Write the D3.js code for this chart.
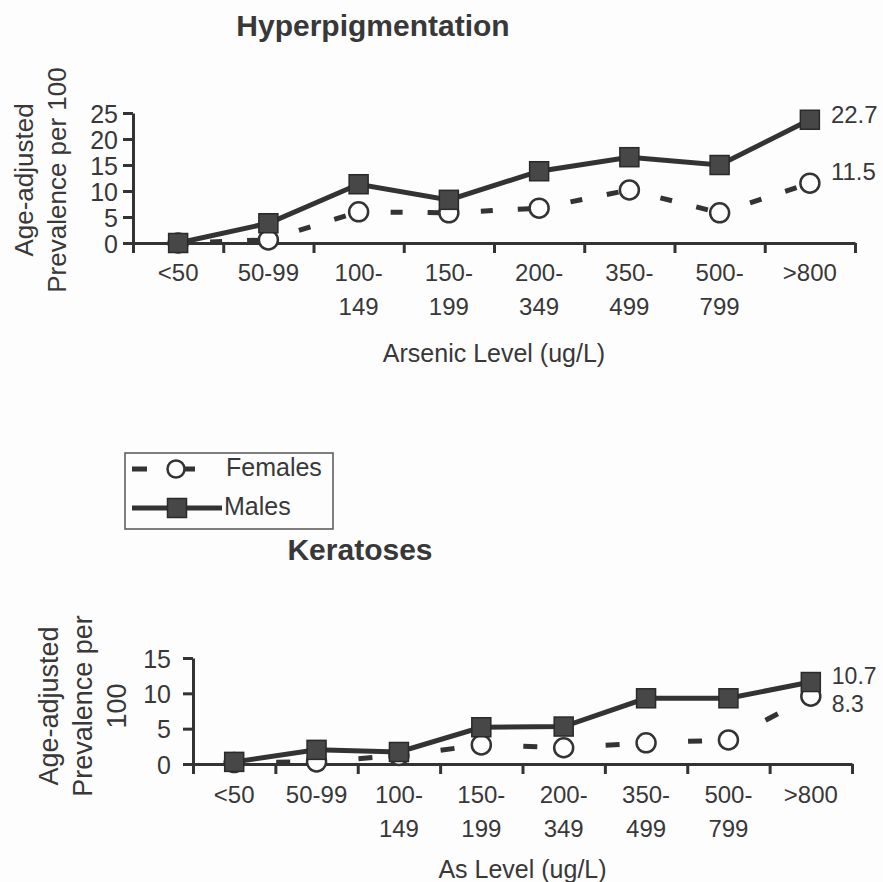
<!DOCTYPE html>
<html>
<head>
<meta charset="utf-8">
<script src="https://cdn.jsdelivr.net/npm/d3@7"></script>
<style>
  body { margin: 0; background: #fdfdfd; }
  text { font-family: "Liberation Sans", Arial, sans-serif; fill: #383838; }
</style>
</head>
<body>
<div id="chart"></div>
<script>
// arsenic categories, each tick label split in the lines it is printed on
var categories = ["<50", "50-99", "100-149", "150-199", "200-349", "350-499", "500-799", ">800"];
var categoryLines = [["<50"], ["50-99"], ["100-", "149"], ["150-", "199"], ["200-", "349"], ["350-", "499"], ["500-", "799"], [">800"]];
var seriesNames = ["Females", "Males"];

// age-adjusted prevalence per 100
var hyperFemales = [0, 0.6, 6.0, 5.8, 6.7, 10.2, 5.8, 11.5];
var hyperMales = [0, 3.8, 11.3, 8.3, 13.8, 16.5, 15.0, 23.7];
var keratFemales = [0.2, 0.3, 1.2, 2.7, 2.3, 3.0, 3.4, 9.6];
var keratMales = [0.3, 2.0, 1.7, 5.2, 5.3, 9.3, 9.3, 11.6];

// printed values at the right end of the lines
var hyperEndLabels = ["11.5", "22.7"];
var keratEndLabels = ["8.3", "10.7"];

var hyperTicks = [0, 5, 10, 15, 20, 25];
var keratTicks = [0, 5, 10, 15];

var ink = "#333";

var svg = d3.select("#chart")
  .append("svg")
  .attr("width", 883)
  .attr("height", 882);

// one panel = axes, dashed females, solid males
function drawPanel(p) {
  var g = svg.append("g");

  var xEdge = d3.scaleLinear().domain([0, categories.length]).range([p.left, p.right]);
  var x = d3.scaleBand().domain(categories).range([p.left, p.right]);
  var xc = function(i) { return x(categories[i]) + x.bandwidth() / 2; };
  var y = d3.scaleLinear().domain([0, p.yMax]).range([p.bottom, p.top]);

  // y axis with left ticks
  var yAxis = g.append("g")
    .attr("transform", "translate(" + p.left + ",0)")
    .call(d3.axisLeft(y).tickValues(p.yTicks).tickSize(10).tickSizeOuter(0).tickPadding(p.yPad));
  yAxis.selectAll("text").style("font-size", "25px").attr("dy", "0.36em");

  // x axis, ticks on the band edges, no labels
  g.append("g")
    .attr("transform", "translate(0," + p.bottom + ")")
    .call(d3.axisBottom(xEdge).tickValues(d3.range(categories.length + 1)).tickSize(10).tickSizeOuter(0).tickFormat(""));

  g.selectAll(".domain, .tick line")
    .attr("stroke", ink)
    .attr("stroke-width", 3);

  // category labels, one or two lines
  var labels = g.selectAll(".cat")
    .data(categoryLines)
    .enter()
    .append("text")
    .attr("class", "cat")
    .attr("text-anchor", "middle")
    .style("font-size", "24px")
    .attr("y", p.bottom + p.labelY);
  labels.selectAll("tspan")
    .data(function(d, i) { return d.map(function(s) { return {s: s, i: i}; }); })
    .enter()
    .append("tspan")
    .attr("x", function(d) { return xc(d.i); })
    .attr("dy", function(d, j) { return j === 0 ? 0 : 34; })
    .text(function(d) { return d.s; });

  // x title
  g.append("text")
    .attr("x", (p.left + p.right) / 2)
    .attr("y", p.xTitleY)
    .attr("text-anchor", "middle")
    .style("font-size", "25px")
    .text(p.xTitle);

  // y title, rotated, several lines
  p.yTitle.forEach(function(line, i) {
    g.append("text")
      .attr("transform", "translate(" + (p.yTitleX + i * p.yTitleGap) + "," + p.yTitleMid + ") rotate(-90)")
      .attr("text-anchor", "middle")
      .style("font-size", p.yTitleSize + "px")
      .text(line);
  });

  // chart title
  g.append("text")
    .attr("x", p.titleX)
    .attr("y", p.titleY)
    .attr("text-anchor", "middle")
    .style("font-size", "30px")
    .style("font-weight", "bold")
    .text(p.title);

  var line = d3.line()
    .x(function(d) { return xc(d.i); })
    .y(function(d) { return y(d.v); });

  var fem = p.females.map(function(v, i) { return {v: v, i: i}; });
  var mal = p.males.map(function(v, i) { return {v: v, i: i}; });

  // females: each segment restarts the dash pattern
  g.selectAll(".fseg")
    .data(d3.pairs(fem))
    .enter()
    .append("path")
    .attr("class", "fseg")
    .attr("d", function(d) { return line(d); })
    .attr("fill", "none")
    .attr("stroke", ink)
    .attr("stroke-width", 5)
    .attr("stroke-dasharray", p.dash)
    .attr("stroke-dashoffset", p.dashOffset);

  g.selectAll(".fdot")
    .data(fem)
    .enter()
    .append("circle")
    .attr("class", "fdot")
    .attr("cx", function(d) { return xc(d.i); })
    .attr("cy", function(d) { return y(d.v); })
    .attr("r", 9.5)
    .attr("fill", "#fdfdfd")
    .attr("stroke", ink)
    .attr("stroke-width", 2.5);

  // males: solid line with filled squares
  g.append("path")
    .attr("d", line(mal))
    .attr("fill", "none")
    .attr("stroke", ink)
    .attr("stroke-width", 5);

  g.selectAll(".mdot")
    .data(mal)
    .enter()
    .append("rect")
    .attr("class", "mdot")
    .attr("x", function(d) { return xc(d.i) - 9.5; })
    .attr("y", function(d) { return y(d.v) - 9.5; })
    .attr("width", 19)
    .attr("height", 19)
    .attr("fill", "#474747")
    .attr("stroke", "#2a2a2a")
    .attr("stroke-width", 1.5);

  // end values
  var last = categories.length - 1;
  [fem[last], mal[last]].forEach(function(d, k) {
    g.append("text")
      .attr("x", xc(last) + 21)
      .attr("y", y(d.v) + p.endDy[k])
      .style("font-size", p.endSize + "px")
      .text(p.endLabels[k]);
  });
}

drawPanel({
  left: 133, right: 855, top: 113, bottom: 243, yMax: 25, yTicks: hyperTicks, yPad: 5,
  labelY: 38, xTitle: "Arsenic Level (ug/L)", xTitleY: 362,
  yTitle: ["Age-adjusted", "Prevalence per 100"], yTitleX: 33, yTitleGap: 33, yTitleMid: 180, yTitleSize: 26,
  title: "Hyperpigmentation", titleX: 373, titleY: 36,
  females: hyperFemales, males: hyperMales, dash: "12 25", dashOffset: 5,
  endLabels: hyperEndLabels, endDy: [-3, 3], endSize: 24
});

drawPanel({
  left: 193, right: 852, top: 658, bottom: 764, yMax: 15, yTicks: keratTicks, yPad: 12,
  labelY: 39, xTitle: "As Level (ug/L)", xTitleY: 878,
  yTitle: ["Age-adjusted", "Prevalence per", "100"], yTitleX: 58, yTitleGap: 34, yTitleMid: 706, yTitleSize: 27,
  title: "Keratoses", titleX: 360, titleY: 560,
  females: keratFemales, males: keratMales, dash: "14 68", dashOffset: -42,
  endLabels: keratEndLabels, endDy: [16, 2], endSize: 23
});

// legend box between the panels
var legend = svg.append("g");
legend.append("rect")
  .attr("x", 125).attr("y", 453)
  .attr("width", 208).attr("height", 76)
  .attr("fill", "none")
  .attr("stroke", "#555")
  .attr("stroke-width", 1.5);

legend.append("line")
  .attr("x1", 132).attr("x2", 195).attr("y1", 469).attr("y2", 469)
  .attr("stroke", ink).attr("stroke-width", 5)
  .attr("stroke-dasharray", "15 30 18");
legend.append("circle")
  .attr("cx", 176).attr("cy", 469).attr("r", 8.5)
  .attr("fill", "#fdfdfd").attr("stroke", ink).attr("stroke-width", 2.5);

legend.append("line")
  .attr("x1", 132).attr("x2", 222).attr("y1", 508).attr("y2", 508)
  .attr("stroke", ink).attr("stroke-width", 5);
legend.append("rect")
  .attr("x", 167.5).attr("y", 498.5).attr("width", 19).attr("height", 19)
  .attr("fill", "#474747").attr("stroke", "#2a2a2a").attr("stroke-width", 1.5);

legend.selectAll(".ltext")
  .data(seriesNames)
  .enter()
  .append("text")
  .attr("class", "ltext")
  .attr("x", function(d, i) { return i === 0 ? 226 : 224; })
  .attr("y", function(d, i) { return i === 0 ? 476 : 515; })
  .style("font-size", "25px")
  .text(function(d) { return d; });
</script>
</body>
</html>
